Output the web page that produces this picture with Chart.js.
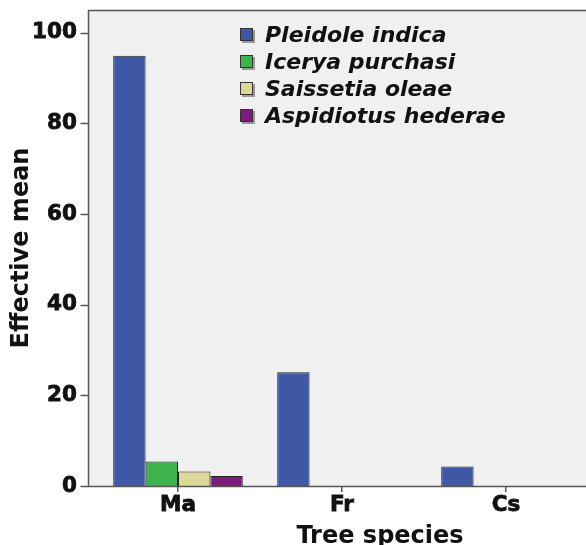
<!DOCTYPE html>
<html>
<head>
<meta charset="utf-8">
<script src="https://cdn.jsdelivr.net/npm/chart.js@4/dist/chart.umd.min.js"></script>
<style>
  body { margin: 0; background: #fff; }
  #wrap { position: relative; width: 586px; height: 545px; overflow: hidden; }
  #legend { position: absolute; left: 240px; top: 21px; font: italic bold 22px "DejaVu Sans"; color: #111; }
  .row { display: flex; align-items: center; height: 27px; }
  .box { width: 11px; height: 11px; border: 1px solid #333; margin-right: 12px; box-shadow: 2px 2px 0 #9a9a9a; }
  #xtitle { position: absolute; left: 280px; top: 523px; width: 200px; text-align: center; font: bold 24px/1 "DejaVu Sans"; color: #111; white-space: nowrap; }
</style>
</head>
<body>
<div id="wrap">
  <canvas id="chart" width="600" height="545"></canvas>
  <div id="legend"></div>
  <div id="xtitle">Tree species</div>
</div>
<script>
// values
const categories = ['Ma', 'Fr', 'Cs'];
const pleidoleIndica = [94.9, 25.1, 4.3];
const iceryaPurchasi = [5.4, null, null];
const saissetiaOleae = [3.2, null, null];
const aspidiotusHederae = [2.2, null, null];
const yTicks = [0, 20, 40, 60, 80, 100];

const seriesNames = ['Pleidole indica', 'Icerya purchasi', 'Saissetia oleae', 'Aspidiotus hederae'];
const seriesColors = ['#3f58a6', '#3db44b', '#dcd898', '#7b1c7e'];
const seriesValues = [pleidoleIndica, iceryaPurchasi, saissetiaOleae, aspidiotusHederae];

const axisColor = '#555';

// plot background and the frame, axis line sits 8px left of the data area
const framePlugin = {
  id: 'frame',
  beforeDraw(chart) {
    const ctx = chart.ctx;
    const a = chart.chartArea;
    ctx.save();
    ctx.fillStyle = '#f0f0f0';
    ctx.fillRect(a.left - 8, a.top, chart.width, a.bottom - a.top);
    ctx.restore();
  },
  afterDatasetsDraw(chart) {
    const ctx = chart.ctx;
    const a = chart.chartArea;
    const y = chart.scales.y;
    const x0 = a.left - 8 + 0.5;
    ctx.save();
    ctx.strokeStyle = axisColor;
    ctx.lineWidth = 1.5;
    ctx.beginPath();
    ctx.moveTo(x0, a.top + 0.5);
    ctx.lineTo(chart.width, a.top + 0.5);
    ctx.moveTo(x0, a.top);
    ctx.lineTo(x0, a.bottom + 0.5);
    ctx.lineTo(chart.width, a.bottom + 0.5);
    yTicks.forEach(function (v) {
      const py = Math.round(y.getPixelForValue(v)) + 0.5;
      ctx.moveTo(x0 - 8, py);
      ctx.lineTo(x0, py);
    });
    ctx.stroke();
    ctx.restore();
  }
};

const tickFont = { family: 'DejaVu Sans', size: 21.5, weight: 'bold' };

const chart = new Chart(document.getElementById('chart'), {
  type: 'bar',
  data: {
    labels: categories,
    datasets: seriesNames.map(function (name, i) {
      return {
        label: name,
        data: seriesValues[i],
        backgroundColor: seriesColors[i],
        borderColor: '#222',
        borderWidth: 1,
        borderSkipped: 'bottom',
        barPercentage: 1,
        categoryPercentage: 0.79
      };
    })
  },
  options: {
    responsive: false,
    animation: false,
    layout: { padding: { top: 10, right: 12, left: 0, bottom: 0 } },
    plugins: {
      legend: { display: false },
      tooltip: { enabled: false }
    },
    scales: {
      x: {
        afterFit(scale) {
          scale.height = 59;
          scale.paddingLeft = 0;
          scale.paddingRight = 0;
        },
        border: { display: false },
        grid: { offset: false, drawOnChartArea: false, tickLength: 6, color: axisColor, lineWidth: 1.5 },
        ticks: { padding: 1, color: '#111', textStrokeColor: '#111', textStrokeWidth: 0.8, font: tickFont }
      },
      y: {
        min: 0,
        max: 105,
        afterFit(scale) {
          scale.width = 96;
          scale.paddingTop = 0;
          scale.paddingBottom = 0;
        },
        border: { display: false },
        grid: { display: false, drawTicks: false },
        ticks: {
          stepSize: 20,
          includeBounds: false,
          padding: 19,
          color: '#111',
          textStrokeColor: '#111',
          textStrokeWidth: 0.8,
          font: tickFont
        },
        title: {
          display: true,
          text: 'Effective mean',
          color: '#111',
          padding: { top: 7, bottom: 0 },
          font: { family: 'DejaVu Sans', size: 24, weight: 'bold' }
        }
      }
    }
  },
  plugins: [framePlugin]
});

// legend built from the datasets
const legend = document.getElementById('legend');
chart.data.datasets.forEach(function (ds) {
  const row = document.createElement('div');
  row.className = 'row';
  const box = document.createElement('div');
  box.className = 'box';
  box.style.background = ds.backgroundColor;
  const txt = document.createElement('span');
  txt.textContent = ds.label;
  row.appendChild(box);
  row.appendChild(txt);
  legend.appendChild(row);
});
</script>
</body>
</html>
